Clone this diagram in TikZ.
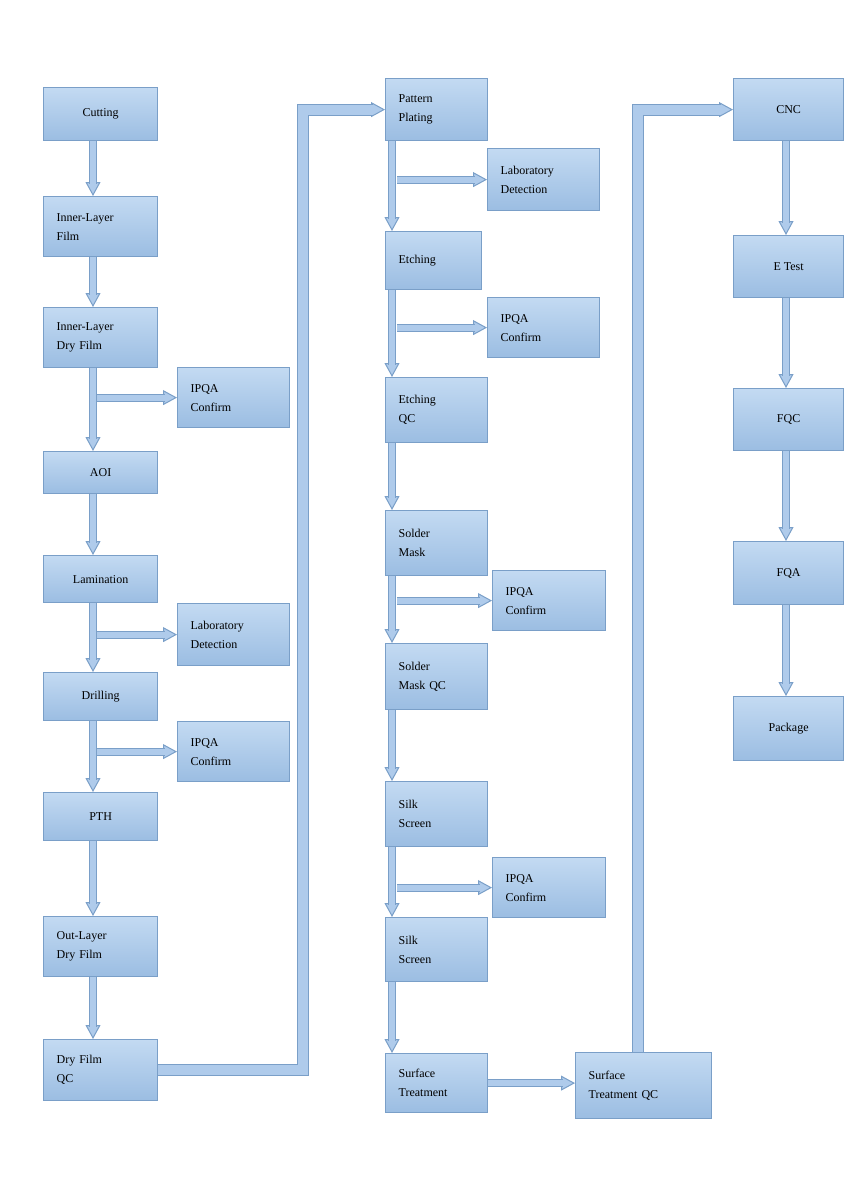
\documentclass[tikz,border=0pt]{standalone}
\usepackage{fontspec}
\setmainfont{Liberation Serif}
\usetikzlibrary{arrows.meta}
\definecolor{boxtop}{HTML}{C3DAF2}
\definecolor{boxbot}{HTML}{9BBDE2}
\definecolor{boxedge}{HTML}{7A9FC8}
\definecolor{shaftfill}{HTML}{AFCBEB}
\tikzset{
  box/.style={draw=boxedge, line width=1.2pt, top color=boxtop, bottom color=boxbot,
    anchor=north west, inner sep=0pt, font=\fontsize{12}{19}\selectfont},
  two/.style={align=left, text width=#1-26pt, inner xsep=13pt},
  head/.style={draw=boxedge, line width=1pt,
    -{Triangle[length=14pt, width=15pt, fill=shaftfill]}},
  shaft/.style={draw=boxedge, line width=1pt, double=shaftfill, double distance=#1,
    shorten >=12pt},
  shaft/.default=6pt
}
\newcommand{\flow}[3][6pt]{%
  \draw[head] #2 -- #3;
  \draw[shaft=#1] #2 -- #3;}
\begin{document}
\begin{tikzpicture}[x=1pt, y=-1pt]
\useasboundingbox (0,0) rectangle (865,1189);
% columns of the arrows
\coordinate (c1) at (93,0);
\coordinate (s1) at (97,0);
\coordinate (c2) at (392,0);
\coordinate (s2) at (397,0);
\coordinate (c3) at (786,0);
\coordinate (e1) at (303,0);
\coordinate (e2) at (638,0);
% first column
\node[box, minimum width=114pt, minimum height=53pt] (cut) at (43,87) {Cutting};
\node[box, minimum width=114pt, minimum height=60pt, two=114pt] (ilf) at (43,196) {Inner-Layer\\Film};
\node[box, minimum width=114pt, minimum height=60pt, two=114pt] (ildf) at (43,307) {Inner-Layer\\Dry Film};
\node[box, minimum width=112pt, minimum height=60pt, two=112pt] (ipqa1) at (177,367) {IPQA\\Confirm};
\node[box, minimum width=114pt, minimum height=42pt] (aoi) at (43,451) {AOI};
\node[box, minimum width=114pt, minimum height=47pt] (lam) at (43,555) {Lamination};
\node[box, minimum width=112pt, minimum height=62pt, two=112pt] (lab1) at (177,603) {Laboratory\\Detection};
\node[box, minimum width=114pt, minimum height=48pt] (dri) at (43,672) {Drilling};
\node[box, minimum width=112pt, minimum height=60pt, two=112pt] (ipqa2) at (177,721) {IPQA\\Confirm};
\node[box, minimum width=114pt, minimum height=48pt] (pth) at (43,792) {PTH};
\node[box, minimum width=114pt, minimum height=60pt, two=114pt] (oldf) at (43,916) {Out-Layer\\Dry Film};
\node[box, minimum width=114pt, minimum height=61pt, two=114pt] (dfqc) at (43,1039) {Dry Film\\QC};
% second column
\node[box, minimum width=102pt, minimum height=62pt, two=102pt] (pp) at (385,78) {Pattern\\Plating};
\node[box, minimum width=112pt, minimum height=62pt, two=112pt] (lab2) at (487,148) {Laboratory\\Detection};
\node[box, minimum width=96pt, minimum height=58pt, two=96pt] (etc) at (385,231) {Etching\\[6pt]};
\node[box, minimum width=112pt, minimum height=60pt, two=112pt] (ipqa3) at (487,297) {IPQA\\Confirm};
\node[box, minimum width=102pt, minimum height=65pt, two=102pt] (eqc) at (385,377) {Etching\\QC};
\node[box, minimum width=102pt, minimum height=65pt, two=102pt] (sm) at (385,510) {Solder\\Mask};
\node[box, minimum width=113pt, minimum height=60pt, two=113pt] (ipqa4) at (492,570) {IPQA\\Confirm};
\node[box, minimum width=102pt, minimum height=66pt, two=102pt] (smqc) at (385,643) {Solder\\Mask QC};
\node[box, minimum width=102pt, minimum height=65pt, two=102pt] (ss1) at (385,781) {Silk\\Screen};
\node[box, minimum width=113pt, minimum height=60pt, two=113pt] (ipqa5) at (492,857) {IPQA\\Confirm};
\node[box, minimum width=102pt, minimum height=64pt, two=102pt] (ss2) at (385,917) {Silk\\Screen};
\node[box, minimum width=102pt, minimum height=59pt, two=102pt] (st) at (385,1053) {Surface\\Treatment};
\node[box, minimum width=136pt, minimum height=66pt, two=136pt] (stqc) at (575,1052) {Surface\\Treatment QC};
% third column
\node[box, minimum width=110pt, minimum height=62pt] (cnc) at (733,78) {CNC\\[10pt]};
\node[box, minimum width=110pt, minimum height=62pt] (et) at (733,235) {E Test\\[10pt]};
\node[box, minimum width=110pt, minimum height=62pt] (fqc) at (733,388) {FQC\\[10pt]};
\node[box, minimum width=110pt, minimum height=63pt] (fqa) at (733,541) {FQA\\[10pt]};
\node[box, minimum width=110pt, minimum height=64pt] (pkg) at (733,696) {Package\\[10pt]};
% arrows, first column
\flow{(cut.south -| c1)}{(ilf.north -| c1)}
\flow{(ilf.south -| c1)}{(ildf.north -| c1)}
\flow{(ildf.south -| c1)}{(aoi.north -| c1)}
\flow{(s1 |- ipqa1.west)}{(ipqa1.west)}
\flow{(aoi.south -| c1)}{(lam.north -| c1)}
\flow{(lam.south -| c1)}{(dri.north -| c1)}
\flow{(s1 |- lab1.west)}{(lab1.west)}
\flow{(dri.south -| c1)}{(pth.north -| c1)}
\flow{(s1 |- ipqa2.west)}{(ipqa2.west)}
\flow{(pth.south -| c1)}{(oldf.north -| c1)}
\flow{(oldf.south -| c1)}{(dfqc.north -| c1)}
\flow[10pt]{(dfqc.east) -| (e1 |- pp.west)}{(pp.west)}
% arrows, second column
\flow{(pp.south -| c2)}{(etc.north -| c2)}
\flow{(s2 |- lab2.west)}{(lab2.west)}
\flow{(etc.south -| c2)}{(eqc.north -| c2)}
\flow{(s2 |- ipqa3.west)}{(ipqa3.west)}
\flow{(eqc.south -| c2)}{(sm.north -| c2)}
\flow{(sm.south -| c2)}{(smqc.north -| c2)}
\flow{(s2 |- ipqa4.west)}{(ipqa4.west)}
\flow{(smqc.south -| c2)}{(ss1.north -| c2)}
\flow{(ss1.south -| c2)}{(ss2.north -| c2)}
\flow{(s2 |- ipqa5.west)}{(ipqa5.west)}
\flow{(ss2.south -| c2)}{(st.north -| c2)}
\flow{(st.east)}{(stqc.west |- st.east)}
\flow[10pt]{(stqc.north -| e2) |- (e2 |- cnc.west)}{(cnc.west)}
% arrows, third column
\flow{(cnc.south -| c3)}{(et.north -| c3)}
\flow{(et.south -| c3)}{(fqc.north -| c3)}
\flow{(fqc.south -| c3)}{(fqa.north -| c3)}
\flow{(fqa.south -| c3)}{(pkg.north -| c3)}
\end{tikzpicture}
\end{document}
